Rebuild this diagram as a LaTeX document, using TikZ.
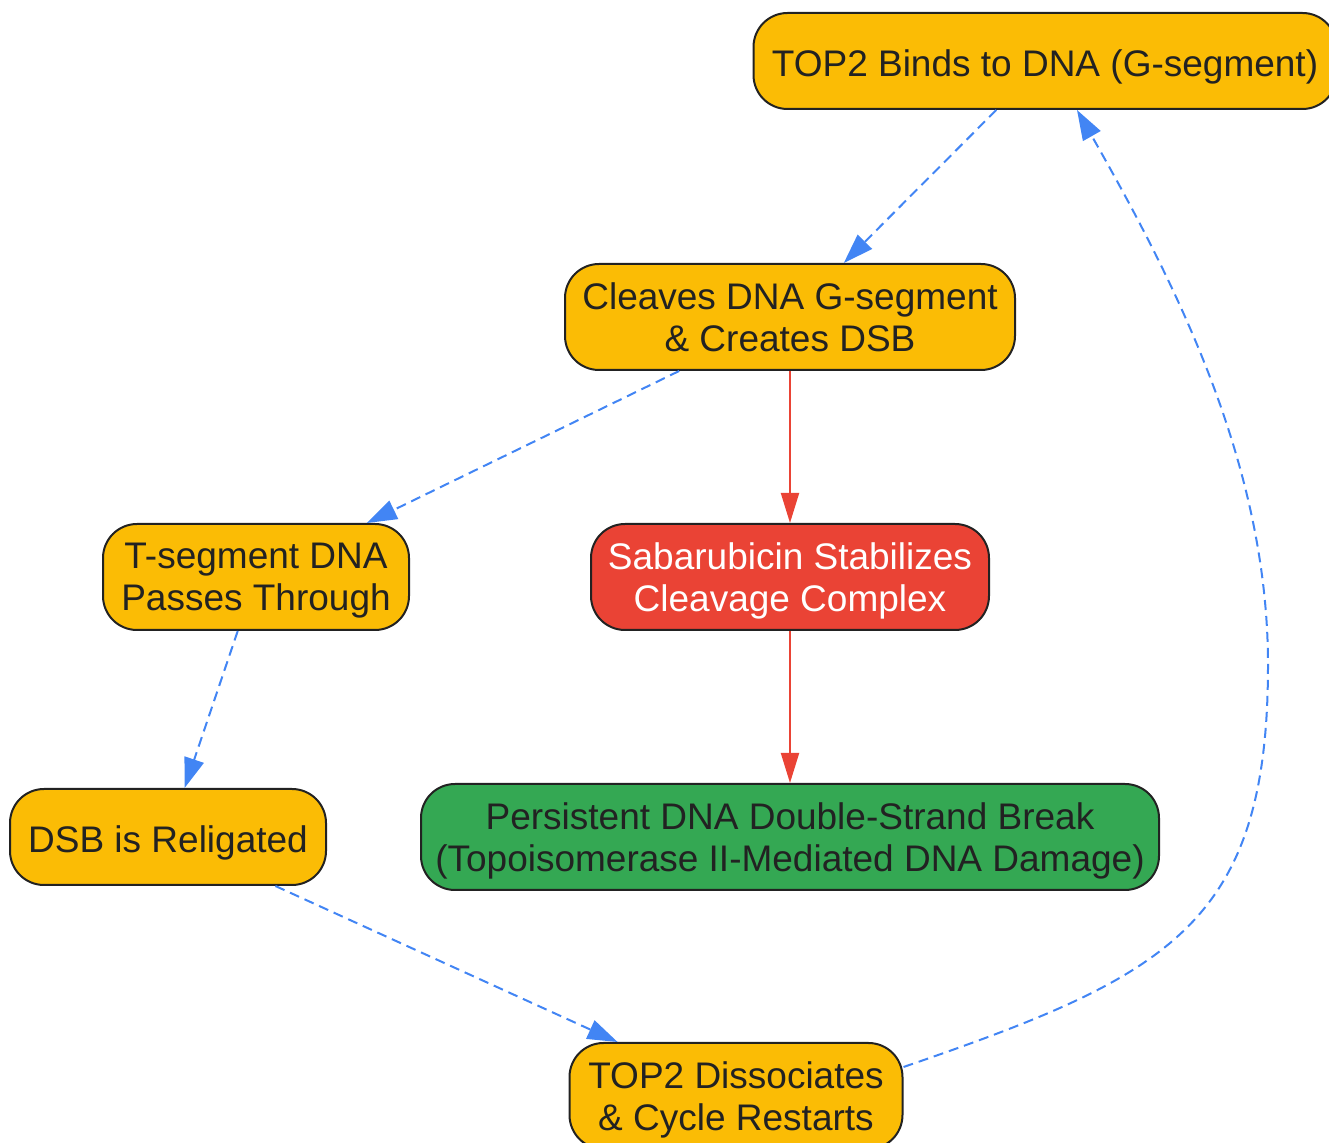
\documentclass[tikz,border=0pt]{standalone}
\usepackage{fontspec}
\setmainfont{Liberation Sans}
\usepackage{tikz}
\usetikzlibrary{arrows.meta}
\usetikzlibrary{calc}
\definecolor{topoyellow}{HTML}{FBBC05}
\definecolor{topored}{HTML}{EA4335}
\definecolor{topogreen}{HTML}{34A853}
\definecolor{topoblue}{HTML}{4285F4}
\definecolor{topoink}{HTML}{222222}
\tikzstyle{stepnode}=[rectangle,rounded corners=17pt,draw=topoink,line width=1pt,fill=topoyellow,text=topoink,align=center,inner sep=0pt,font=\fontsize{18.5}{21}\selectfont,text depth=-1pt]
\tikzstyle{oneline}=[text height=15.7pt,text depth=0pt]
\tikzstyle{drugnode}=[stepnode,fill=topored,text=white]
\tikzstyle{damagenode}=[stepnode,fill=topogreen]
\tikzstyle{loopedge} = [draw,topoblue,line width=1pt,dash pattern=on 5pt off 3pt,-{Triangle[length=15pt,width=10pt]}]
\tikzstyle{drugedge} = [draw,topored,line width=1pt,-{Triangle[length=15pt,width=9pt]}]

\begin{document}
\begin{tikzpicture}[x=0.5pt,y=-0.5pt]
    \useasboundingbox (0,0) rectangle (1329,1143);
    % First we draw the steps of the cycle
    \node[stepnode,oneline,minimum width=291.5pt,minimum height=48pt] (bind) at (1045,61) {TOP2 Binds to DNA (G-segment)};
    \node[stepnode,minimum width=225pt,minimum height=53pt] (cleave) at (790,317) {Cleaves DNA G-segment\\\& Creates DSB};
    \node[stepnode,minimum width=153pt,minimum height=53pt] (tseg) at (256,577) {T-segment DNA\\Passes Through};
    \node[stepnode,oneline,minimum width=158pt,minimum height=48pt] (relig) at (168,837) {DSB is Religated};
    \node[stepnode,minimum width=166.5pt,minimum height=53pt] (diss) at (736,1096) {TOP2 Dissociates\\\& Cycle Restarts};

    % the drug branch
    \node[drugnode,minimum width=199pt,minimum height=53pt] (sabar) at (790,577) {Sabarubicin Stabilizes\\Cleavage Complex};
    \node[damagenode,minimum width=369pt,minimum height=53pt] (persist) at (790,837) {Persistent DNA Double-Strand Break\\(Topoisomerase II-Mediated DNA Damage)};

    % Connect the steps
    \foreach \source/ \dest in {bind/cleave, cleave/tseg, tseg/relig, relig/diss}
        \path[loopedge] (\source) -- (\dest);
    \coordinate (turn) at (1268,665);
    \path[loopedge] ([yshift=14.5pt]diss.east) .. controls +(265,-91) and +(0,260) .. (turn)
        .. controls +(0,-200) and +(99,174) .. ([xshift=16pt]bind.south);

    \foreach \source/ \dest in {cleave/sabar, sabar/persist}
        \path[drugedge] (\source) -- (\dest);
\end{tikzpicture}
\end{document}
